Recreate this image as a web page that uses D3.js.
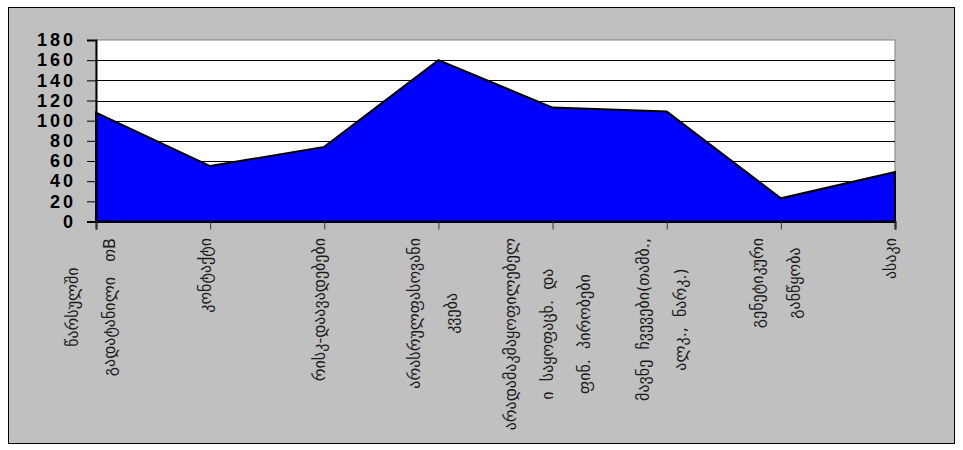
<!DOCTYPE html>
<html>
<head>
<meta charset="utf-8">
<script src="https://cdn.jsdelivr.net/npm/d3@7"></script>
<style>
  html, body { margin: 0; padding: 0; background: #fff; }
  svg { display: block; }
  .cat-labels text { white-space: pre; }
</style>
</head>
<body>
<svg id="chart" width="963" height="450"></svg>
<script>
// Risk factor categories (each entry is the list of wrapped lines)
const categories = [
  ["წარსულში", "გადატანილი   თB"],
  ["კონტაქტი"],
  ["რისკ-დაავადებები"],
  ["არასრულფასოვანი", "კვება"],
  ["არადამაკმაყოფილებელ", "ი  საყოფაცხ.  და", "ფინ.  პირობები"],
  ["მავნე  ჩვევები(თამბ.,", "ალკ.,  ნარკ.)"],
  ["გენეტიკური", "განწყობა"],
  ["ასაკი"]
];
const values = [108, 55, 74, 160, 113, 109, 23, 49];
const yTicks = [0, 20, 40, 60, 80, 100, 120, 140, 160, 180];

const svg = d3.select("#chart");

// chart frame
svg.append("rect")
  .attr("x", 8.5).attr("y", 7.5)
  .attr("width", 946).attr("height", 436)
  .attr("fill", "#c0c0c0")
  .attr("stroke", "#000").attr("stroke-width", 1);

const plot = { left: 96, right: 895, top: 40, bottom: 221.5 };

const x = d3.scalePoint()
  .domain(d3.range(categories.length))
  .range([plot.left, plot.right]);

const y = d3.scaleLinear()
  .domain([0, 180])
  .range([plot.bottom, plot.top]);

// plot background
svg.append("rect")
  .attr("x", plot.left).attr("y", plot.top)
  .attr("width", plot.right - plot.left)
  .attr("height", plot.bottom - plot.top)
  .attr("fill", "#fff")
  .attr("stroke", "#808080").attr("stroke-width", 1);

// horizontal gridlines
svg.append("g")
  .selectAll("line")
  .data(yTicks.filter(t => t > 0 && t < 180))
  .join("line")
  .attr("x1", plot.left).attr("x2", plot.right)
  .attr("y1", d => Math.round(y(d)) + 0.5)
  .attr("y2", d => Math.round(y(d)) + 0.5)
  .attr("stroke", "#000").attr("stroke-width", 1);

// area
const area = d3.area()
  .x((d, i) => x(i))
  .y0(y(0))
  .y1(d => y(d));

svg.append("path")
  .datum(values)
  .attr("d", area)
  .attr("fill", "#0000ff")
  .attr("stroke", "#000")
  .attr("stroke-width", 2)
  .attr("stroke-linejoin", "miter");

// y axis
const yAxis = d3.axisLeft(y)
  .tickValues(yTicks)
  .tickSize(9)
  .tickPadding(14)
  .tickFormat(d3.format("d"));

const gy = svg.append("g")
  .attr("transform", `translate(${plot.left},0)`)
  .call(yAxis);
gy.select(".domain").attr("stroke", "#000").attr("stroke-width", 2);
gy.selectAll(".tick line").attr("stroke", "#000");
gy.selectAll(".tick text")
  .attr("fill", "#000")
  .style("font-family", "'Liberation Sans', Arial, sans-serif")
  .style("font-size", "18px")
  .style("font-weight", "bold")
  .style("letter-spacing", "3px")
  .attr("dx", "3px");

// x axis
const xAxis = d3.axisBottom(x)
  .tickSize(8)
  .tickFormat("");

const gx = svg.append("g")
  .attr("transform", `translate(0,${plot.bottom})`)
  .call(xAxis);
gx.select(".domain").attr("stroke", "#000").attr("stroke-width", 2);
gx.selectAll(".tick line").attr("stroke", "#333");

// rotated, wrapped category labels
const lineGap = 37;
const labelTop = 238;
const labels = svg.append("g").attr("class", "cat-labels");

categories.forEach((lines, i) => {
  const g = labels.append("g");
  const texts = lines.map((ln, j) => {
    const cx = x(i) - 5 + (j - (lines.length - 1) / 2) * lineGap;
    return g.append("text")
      .attr("data-cx", cx)
      .attr("dominant-baseline", "central")
      .attr("text-anchor", "middle")
      .style("font-family", "'DejaVu Sans', sans-serif")
      .style("font-size", "16px")
      .attr("fill", "#1a1a1a")
      .text(ln);
  });
  const widest = d3.max(texts, t => t.node().getComputedTextLength());
  const cy = labelTop + widest / 2;
  texts.forEach(t => {
    t.attr("transform", `translate(${t.attr("data-cx")},${cy}) rotate(-90)`);
  });
});
</script>
</body>
</html>
